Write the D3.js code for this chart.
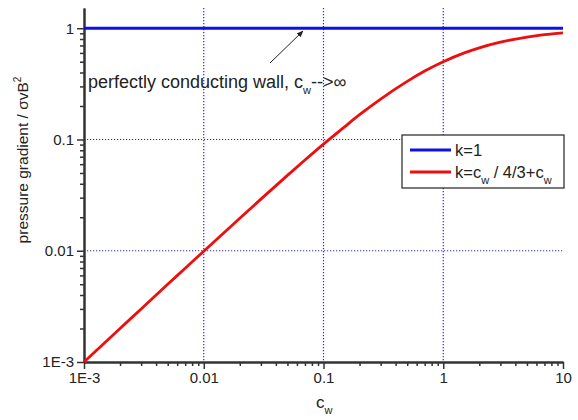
<!DOCTYPE html>
<html>
<head>
<meta charset="utf-8">
<script src="https://cdn.jsdelivr.net/npm/d3@7"></script>
<style>
  body { margin: 0; background: #fff; }
  text { font-family: "Liberation Sans", Arial, sans-serif; fill: #222; }
</style>
</head>
<body>
<div id="chart"></div>
<script>
// values
var cw = [0.001, 0.002, 0.003, 0.005, 0.007, 0.01, 0.02, 0.03, 0.05, 0.07, 0.1, 0.15, 0.2, 0.3, 0.5, 0.7, 1, 1.5, 2, 3, 5, 7, 10];
var kRed = [0.001, 0.002, 0.003, 0.005, 0.00695, 0.0099, 0.0196, 0.0291, 0.0476, 0.0654, 0.0909, 0.130, 0.167, 0.231, 0.333, 0.412, 0.5, 0.6, 0.667, 0.75, 0.833, 0.875, 0.909];
var kBlue = [1, 1];
var cwBlue = [0.001, 10];
var xTicks = [0.001, 0.01, 0.1, 1, 10];
var xTickLabels = ["1E-3", "0.01", "0.1", "1", "10"];
var yTicks = [0.001, 0.01, 0.1, 1];
var yTickLabels = ["1E-3", "0.01", "0.1", "1"];
var legendLabels = ["k=1", "k=c/4/3+c"];

var width = 578, height = 420;
var svg = d3.select("#chart").append("svg")
  .attr("width", width)
  .attr("height", height);

var xScale = d3.scaleLog().domain([0.001, 10]).range([84, 563]);
var yScale = d3.scaleLog().domain([0.001, 1.52]).range([362, 8]);

// minor tick positions
var xMinor = [];
[0.001, 0.01, 0.1, 1].forEach(function(d) {
  for (var i = 2; i <= 9; i++) xMinor.push(d * i);
});
var yMinor = [];
[0.001, 0.01, 0.1].forEach(function(d) {
  for (var i = 2; i <= 9; i++) yMinor.push(d * i);
});

// grid
var grid = svg.append("g").attr("class", "grid");
grid.selectAll(".vg").data([0.01, 0.1, 1]).enter().append("line")
  .attr("x1", d => xScale(d)).attr("x2", d => xScale(d))
  .attr("y1", yScale(1.52)).attr("y2", yScale(0.001))
  .attr("stroke", "#2a2ad0").attr("stroke-width", 1.2)
  .attr("stroke-dasharray", "1.2,1.8");
grid.selectAll(".hg").data([0.01, 0.1]).enter().append("line")
  .attr("y1", d => yScale(d)).attr("y2", d => yScale(d))
  .attr("x1", xScale(0.001)).attr("x2", xScale(10))
  .attr("stroke", "#2a2ad0").attr("stroke-width", 1.2)
  .attr("stroke-dasharray", "1.2,1.8");

// axes
var bottomAxis = d3.axisBottom(xScale).tickValues(xTicks)
  .tickFormat((d, i) => xTickLabels[i]).tickSize(7).tickSizeOuter(0);
var bottomMinor = d3.axisBottom(xScale).tickValues(xMinor)
  .tickFormat("").tickSize(4).tickSizeOuter(0);
var leftAxis = d3.axisLeft(yScale).tickValues(yTicks)
  .tickFormat((d, i) => yTickLabels[i]).tickSize(7).tickSizeOuter(0);
var leftMinor = d3.axisLeft(yScale).tickValues(yMinor)
  .tickFormat("").tickSize(4).tickSizeOuter(0);

[[bottomAxis, "x"], [bottomMinor, "x"], [leftAxis, "y"], [leftMinor, "y"]].forEach(function(a) {
  var g = svg.append("g")
    .attr("transform", a[1] == "x" ? "translate(0," + yScale(0.001) + ")" : "translate(" + xScale(0.001) + ",0)")
    .call(a[0]);
  g.select(".domain").attr("stroke", "#333").attr("stroke-width", 2);
  g.selectAll(".tick line").attr("stroke", "#333").attr("stroke-width", 1.5);
  g.selectAll(".tick text").attr("font-size", 15).attr("fill", "#222")
    .style("font-family", "Liberation Sans, Arial, sans-serif");
});

// lines
var line = d3.line()
  .x(d => xScale(d[0]))
  .y(d => yScale(d[1]))
  .curve(d3.curveMonotoneX);

svg.append("path")
  .datum(cwBlue.map((c, i) => [c, kBlue[i]]))
  .attr("d", line)
  .attr("fill", "none").attr("stroke", "#1010e0").attr("stroke-width", 3);

svg.append("path")
  .datum(cw.map((c, i) => [c, kRed[i]]))
  .attr("d", line)
  .attr("fill", "none").attr("stroke", "#ee0e0e").attr("stroke-width", 2.8);

// annotation
var ann = svg.append("text").attr("x", 88).attr("y", 88).attr("font-size", 18);
ann.append("tspan").text("perfectly conducting wall, c");
ann.append("tspan").attr("font-size", 11).attr("dy", 6).text("w");
ann.append("tspan").attr("dy", -6).text("-->\u221E");

svg.append("defs").append("marker")
  .attr("id", "arr").attr("viewBox", "0 0 10 10")
  .attr("refX", 9).attr("refY", 5)
  .attr("markerWidth", 7).attr("markerHeight", 7)
  .attr("orient", "auto")
  .append("path").attr("d", "M0,1 L10,5 L0,9 Z").attr("fill", "#222");
svg.append("line")
  .attr("x1", 270).attr("y1", 63).attr("x2", 303).attr("y2", 31)
  .attr("stroke", "#222").attr("stroke-width", 1)
  .attr("marker-end", "url(#arr)");

// legend
var lg = svg.append("g");
lg.append("rect").attr("x", 402).attr("y", 135).attr("width", 162).attr("height", 53)
  .attr("fill", "#fff").attr("stroke", "#222").attr("stroke-width", 1.2);
var lColors = ["#1010e0", "#ee0e0e"];
legendLabels.forEach(function(lab, i) {
  var yy = 150 + i * 22;
  lg.append("line").attr("x1", 410).attr("x2", 451).attr("y1", yy).attr("y2", yy)
    .attr("stroke", lColors[i]).attr("stroke-width", 3);
  var t = lg.append("text").attr("x", 455).attr("y", yy + 6).attr("font-size", 16.5);
  if (i == 0) {
    t.text(lab);
  } else {
    t.append("tspan").text("k=c");
    t.append("tspan").attr("font-size", 11).attr("dy", 6).text("w");
    t.append("tspan").attr("dy", -6).text(" / 4/3+c");
    t.append("tspan").attr("font-size", 11).attr("dy", 6).text("w");
  }
});

// axis titles
var xt = svg.append("text").attr("x", 316).attr("y", 408).attr("font-size", 17);
xt.append("tspan").text("c");
xt.append("tspan").attr("font-size", 11).attr("dy", 6).text("w");

var yt = svg.append("text")
  .attr("transform", "translate(28,160)rotate(-90)")
  .attr("text-anchor", "middle").attr("font-size", 15.5);
yt.append("tspan").text("pressure gradient / \u03C3vB");
yt.append("tspan").attr("font-size", 10).attr("dy", -7).text("2");
</script>
</body>
</html>
